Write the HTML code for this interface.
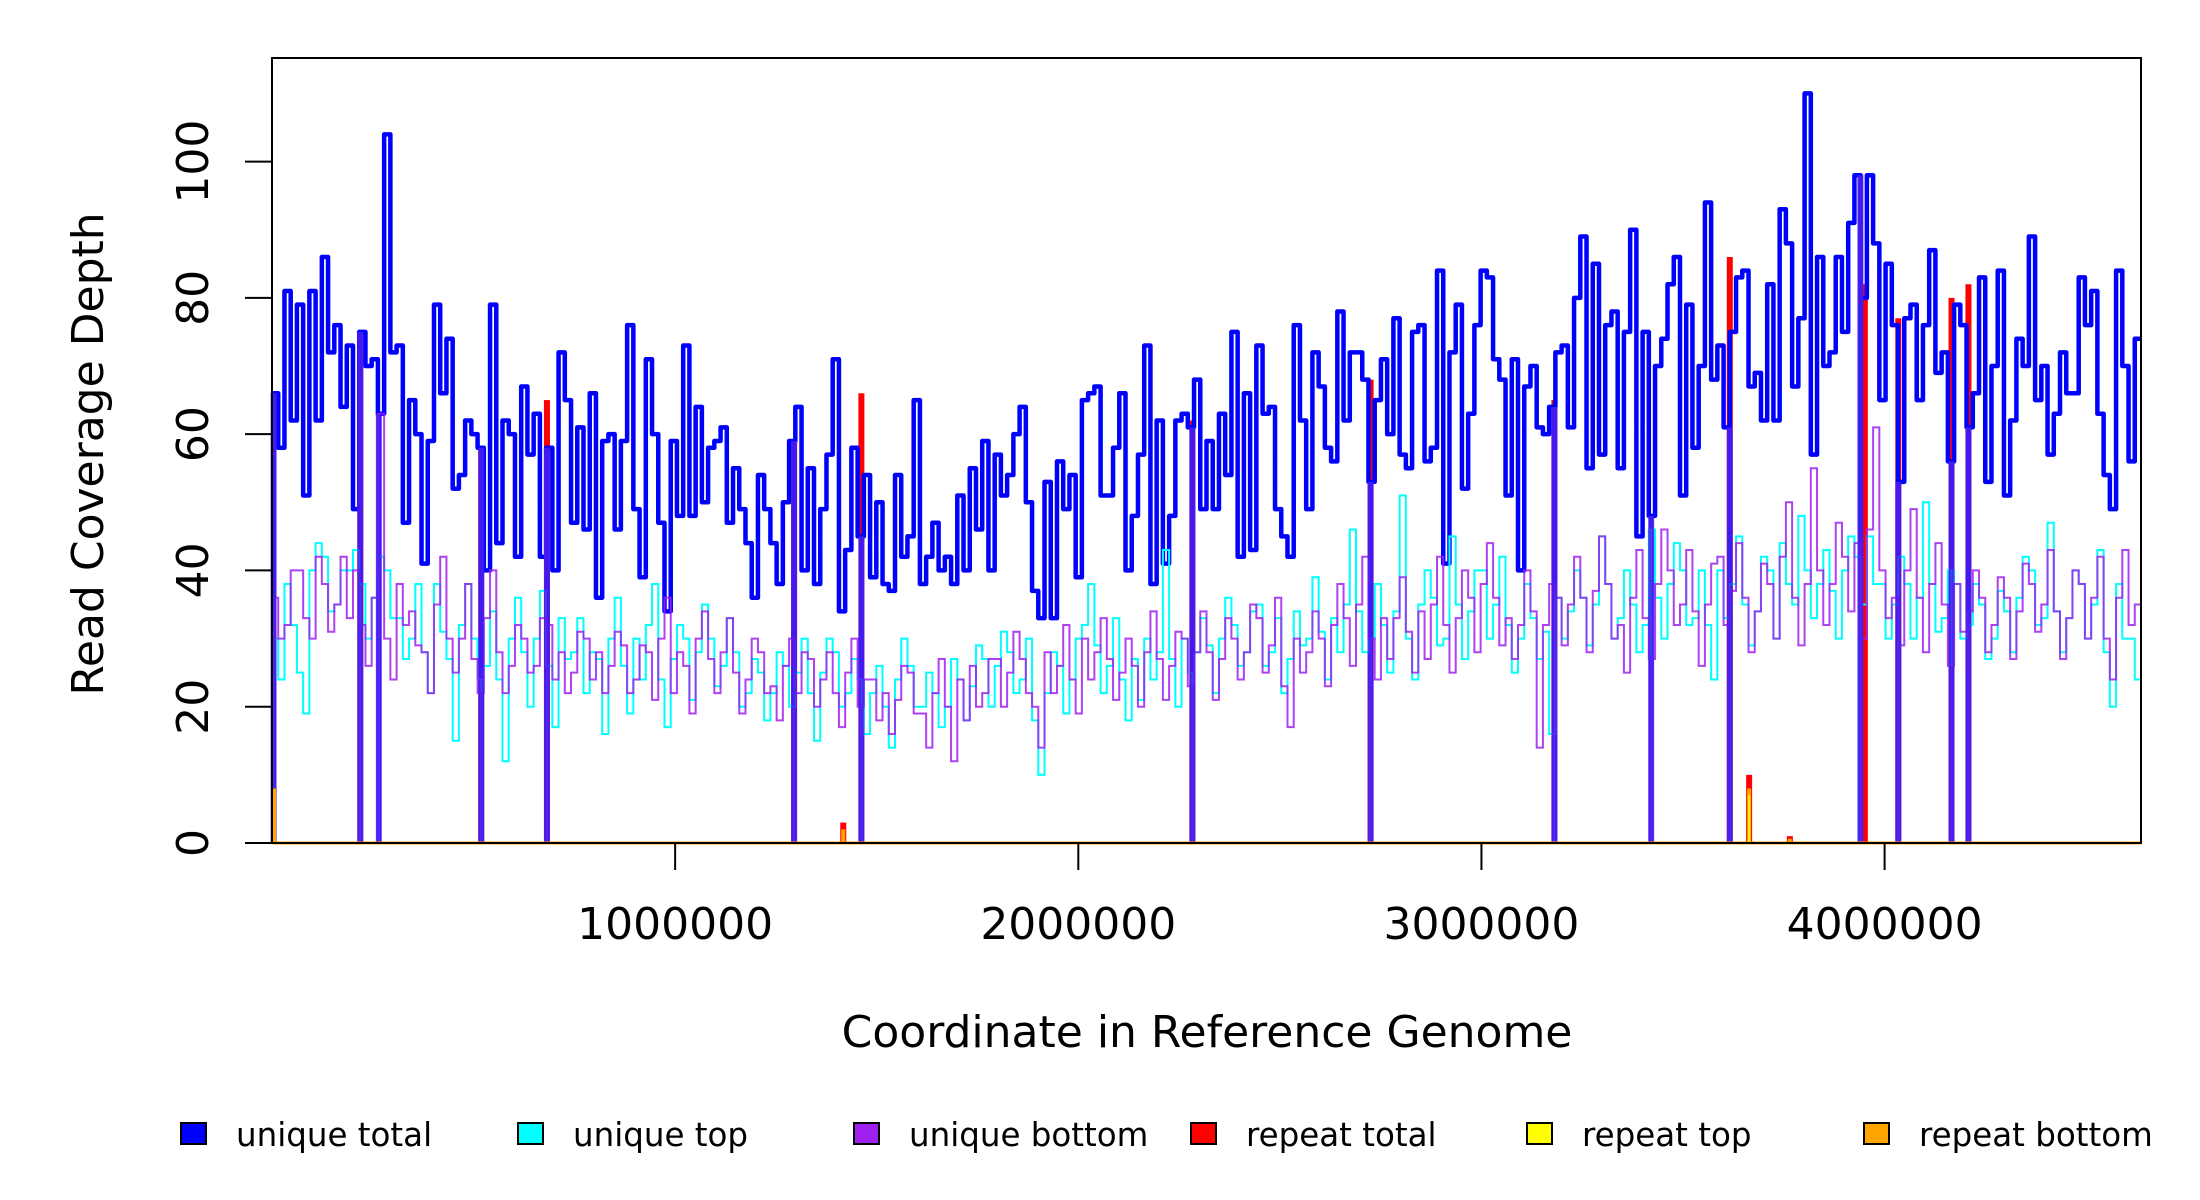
<!DOCTYPE html>
<html><head><meta charset="utf-8"><style>
html,body{margin:0;padding:0;background:#fff;}
svg{display:block;font-family:"DejaVu Sans","Liberation Sans",sans-serif;}
</style></head><body>
<svg id="chart" width="2200" height="1200" viewBox="0 0 2200 1200" xmlns="http://www.w3.org/2000/svg">
<rect x="0" y="0" width="2200" height="1200" fill="#fff"/>
<g id="marks"></g>
<g id="axes"></g>
<text x="1207" y="1047" font-size="44" text-anchor="middle">Coordinate in Reference Genome</text>
<text transform="translate(103,454) rotate(-90)" font-size="44" text-anchor="middle">Read Coverage Depth</text>
<g font-size="32.5">
<g><rect x="181" y="1123" width="25" height="21" fill="#0000FF" stroke="#000" stroke-width="2"/><text x="236" y="1146">unique total</text></g>
<g><rect x="518" y="1123" width="25" height="21" fill="#00FFFF" stroke="#000" stroke-width="2"/><text x="573" y="1146">unique top</text></g>
<g><rect x="854" y="1123" width="25" height="21" fill="#A020F0" stroke="#000" stroke-width="2"/><text x="909" y="1146">unique bottom</text></g>
<g><rect x="1191" y="1123" width="25" height="21" fill="#FF0000" stroke="#000" stroke-width="2"/><text x="1246" y="1146">repeat total</text></g>
<g><rect x="1527" y="1123" width="25" height="21" fill="#FFFF00" stroke="#000" stroke-width="2"/><text x="1582" y="1146">repeat top</text></g>
<g><rect x="1864" y="1123" width="25" height="21" fill="#FFA500" stroke="#000" stroke-width="2"/><text x="1919" y="1146">repeat bottom</text></g>
</g>
</svg>
<script>
const genomeLength = 4636000;
const uniqueTotal = [66,58,81,62,79,51,81,62,86,72,76,64,73,49,75,70,71,63,104,72,73,47,65,60,41,59,79,66,74,52,54,62,60,58,40,79,44,62,60,42,67,57,63,42,58,40,72,65,47,61,46,66,36,59,60,46,59,76,49,39,71,60,47,34,59,48,73,48,64,50,58,59,61,47,55,49,44,36,54,49,44,38,50,59,64,40,55,38,49,57,71,34,43,58,45,54,39,50,38,37,54,42,45,65,38,42,47,40,42,38,51,40,55,46,59,40,57,51,54,60,64,50,37,33,53,33,56,49,54,39,65,66,67,51,51,58,66,40,48,57,73,38,62,41,48,62,63,61,68,49,59,49,63,54,75,42,66,43,73,63,64,49,45,42,76,62,49,72,67,58,56,78,62,72,72,68,53,65,71,60,77,57,55,75,76,56,58,84,41,72,79,52,63,76,84,83,71,68,51,71,40,67,70,61,60,64,72,73,61,80,89,55,85,57,76,78,55,75,90,45,75,48,70,74,82,86,51,79,58,70,94,68,73,61,75,83,84,67,69,62,82,62,93,88,67,77,110,57,86,70,72,86,75,91,98,80,98,88,65,85,76,53,77,79,65,76,87,69,72,56,79,76,61,66,83,53,70,84,51,62,74,70,89,65,70,57,63,72,66,66,83,76,81,63,54,49,84,70,56,74];
const uniqueTop = [30,24,38,32,25,19,40,44,42,34,35,40,40,43,38,30,36,42,40,33,33,27,30,38,28,22,38,31,27,15,32,38,30,24,26,34,24,12,30,36,28,20,30,37,26,17,33,27,28,33,22,28,27,16,30,36,26,19,30,24,32,38,24,17,27,32,30,21,28,35,30,23,26,33,28,20,22,27,25,18,22,28,26,20,25,30,22,15,25,30,28,20,22,27,24,16,22,26,20,14,24,30,26,20,20,25,22,17,20,27,24,18,23,29,27,20,26,31,28,22,24,30,18,10,22,28,26,19,24,30,32,38,29,22,26,33,24,18,27,21,30,24,28,43,27,20,30,25,28,33,29,22,30,36,32,26,28,34,35,26,28,33,22,27,34,29,30,39,31,24,33,28,35,46,34,28,30,38,32,25,34,51,30,24,35,40,36,29,30,45,35,27,34,40,40,30,35,42,32,25,30,38,33,27,31,16,36,30,34,40,36,29,35,45,38,30,33,40,35,28,32,46,36,30,38,44,40,32,33,40,32,24,40,33,38,45,35,29,34,42,40,30,44,38,35,48,40,33,38,43,37,30,40,45,42,35,45,38,38,30,35,42,38,30,36,50,38,31,33,40,38,30,32,38,35,27,30,37,34,28,36,42,40,32,33,47,34,28,33,40,38,30,35,43,28,20,38,30,30,24];
const uniqueBottom = [36,30,32,40,40,33,30,42,38,31,35,42,33,40,32,26,36,63,30,24,38,32,34,29,28,22,35,42,30,25,30,38,27,22,33,40,28,22,26,32,30,25,26,33,32,24,28,22,25,31,30,24,28,22,26,31,29,22,24,29,28,21,30,36,22,28,26,19,30,34,27,22,28,33,25,19,24,30,28,22,23,18,26,30,22,28,27,20,24,28,22,17,25,30,20,24,24,18,22,16,21,26,25,19,19,14,22,27,20,12,24,18,26,20,22,27,27,20,25,31,27,22,20,14,28,22,26,32,24,19,30,24,28,33,27,21,25,30,26,20,28,34,27,21,26,31,30,23,28,34,28,21,27,33,30,24,28,35,33,25,29,36,23,17,30,25,28,34,30,23,32,38,33,26,35,42,30,24,33,27,33,39,31,25,34,27,35,42,32,25,33,40,36,28,38,44,36,29,33,27,32,40,34,14,32,38,36,29,35,42,36,28,37,45,38,30,32,25,36,43,33,27,38,46,40,32,35,43,34,26,35,41,42,32,37,44,36,28,34,41,38,30,42,50,36,29,38,55,40,32,38,47,42,34,44,30,46,61,40,33,36,29,40,49,36,28,38,44,35,26,38,31,34,40,36,28,32,39,36,27,34,41,38,31,35,43,34,27,33,40,38,30,36,42,30,24,36,43,32,35];
const dipPositions = [4000,219000,265000,519000,682000,1295000,1462000,2283000,2725000,3181000,3421000,3616000,3940000,4034000,4166000,4208000];
const repeatPositions = [219000,519000,682000,1295000,1417000,1462000,2283000,2725000,3181000,3616000,3664000,3765000,3951000,4034000,4166000,4208000];
const repeatTotal = [75,58,65,59,3,66,62,68,65,86,10,1,82,77,80,82];
const repeatBottomPositions = [5000,1417000,3664000,3765000];
const repeatBottom = [8,2,8,0.6];
const repeatTopPositions = [3664000];
const repeatTop = [7];
const yTicks = [0,20,40,60,80,100];
const xTicks = [1000000,2000000,3000000,4000000];

const binCount = uniqueTotal.length;
const L=272,R=2141,T=58,B=843,YMAX=115.2;
const sx=v=>L+(v/genomeLength)*(R-L);
const sy=v=>B-(v/YMAX)*(B-T);
const NS="http://www.w3.org/2000/svg";
const marks=document.getElementById('marks');
const axes=document.getElementById('axes');
function mk(tag,attrs,parent){const e=document.createElementNS(NS,tag);for(const k in attrs)e.setAttribute(k,attrs[k]);parent.appendChild(e);return e;}
function stepPath(vals){const w=genomeLength/vals.length;let d='';for(let i=0;i<vals.length;i++){const x0=sx(i*w),x1=sx((i+1)*w),y=sy(vals[i]);d+=(i===0?'M'+x0+','+y:'L'+x0+','+y)+'L'+x1+','+y;}return d;}
function dipPath(vals){const w=genomeLength/vals.length;let d='';dipPositions.forEach(p=>{const x=sx(p);d+='M'+x+','+sy(vals[Math.min(vals.length-1,Math.floor(p/w))])+'L'+x+','+sy(0);});return d;}

repeatPositions.forEach((p,i)=>{
  const r=mk('rect',{x:sx(p)-3,y:sy(repeatTotal[i]),width:6,height:sy(0)-sy(repeatTotal[i]),fill:'#FF0000'},marks);
  
  
});
let p=mk('path',{d:stepPath(uniqueTotal)+dipPath(uniqueTotal),fill:'none',stroke:'#0000FF','stroke-width':4.5,'stroke-linejoin':'round'},marks);


p=mk('path',{d:stepPath(uniqueTop)+dipPath(uniqueTop),fill:'none',stroke:'#00FFFF','stroke-width':2},marks);


p=mk('path',{d:stepPath(uniqueBottom)+dipPath(uniqueBottom),fill:'none',stroke:'#A020F0','stroke-width':2,'stroke-opacity':0.85},marks);


p=mk('path',{d:dipPath(uniqueTotal),fill:'none',stroke:'#4B1EF0','stroke-width':6,'stroke-opacity':0.85},marks);


p=mk('line',{x1:L,x2:R,y1:sy(0),y2:sy(0),stroke:'#FFA500','stroke-width':3},marks);


repeatBottomPositions.forEach((q,i)=>{
  const r=mk('rect',{x:sx(q)-2,y:sy(repeatBottom[i]),width:4,height:sy(0)-sy(repeatBottom[i]),fill:'#FFA500'},marks);
  
  
});
repeatTopPositions.forEach((q,i)=>{
  const r=mk('rect',{x:sx(q)-1,y:sy(repeatTop[i]),width:2,height:sy(0)-sy(repeatTop[i]),fill:'#FFFF00'},marks);
  
  
});
let f=mk('rect',{x:L,y:T,width:R-L,height:B-T,fill:'none',stroke:'#000','stroke-width':2},axes);


yTicks.forEach(v=>{
  const y=sy(v);
  const t=mk('line',{x1:L-27,x2:L,y1:y,y2:y,stroke:'#000','stroke-width':2},axes);
  
  
  const lb=mk('text',{transform:'translate(208,'+y+') rotate(-90)','font-size':44,'text-anchor':'middle'},axes);
  lb.textContent=v;
  
  
});
xTicks.forEach(v=>{
  const x=sx(v);
  const t=mk('line',{x1:x,x2:x,y1:B,y2:B+27,stroke:'#000','stroke-width':2},axes);
  
  
  const lb=mk('text',{x:x,y:939,'font-size':44,'text-anchor':'middle'},axes);
  lb.textContent=v;
  
  
});
</script>
</body></html>
